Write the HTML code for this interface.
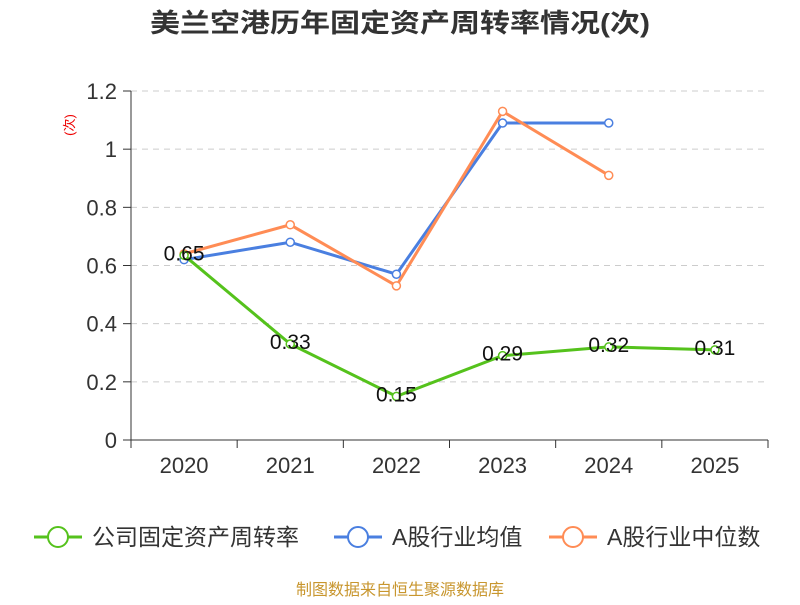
<!DOCTYPE html>
<html><head><meta charset="utf-8"><style>
body{margin:0;background:#fff;font-family:"Liberation Sans","Noto Sans CJK SC",sans-serif}
svg text{font-family:"Liberation Sans","Noto Sans CJK SC",sans-serif}
</style></head><body>
<svg id="c" width="800" height="600">
<text x="400" y="32" text-anchor="middle" font-size="26" font-weight="bold" fill="#333" textLength="500" lengthAdjust="spacingAndGlyphs">美兰空港历年固定资产周转率情况(次)</text>
<text transform="translate(74,125) rotate(-90)" text-anchor="middle" font-size="13" fill="#e00">(次)</text>
<g id="grid"></g><g id="series"></g>
<text x="400" y="595" text-anchor="middle" font-size="16" fill="#c8962e">制图数据来自恒生聚源数据库</text>
</svg>
<script>
const categories=["2020","2021","2022","2023","2024","2025"];
const companyVals=[0.635,0.33,0.15,0.29,0.32,0.31];
const companyLabels=["0.65","0.33","0.15","0.29","0.32","0.31"];
const avgVals=[0.62,0.68,0.57,1.09,1.09];
const medVals=[0.64,0.74,0.53,1.13,0.91];
const yTicks=[0,0.2,0.4,0.6,0.8,1,1.2];
const yTickLabels=["0","0.2","0.4","0.6","0.8","1","1.2"];
const NS="http://www.w3.org/2000/svg";
const L=131,R=768,T=91,B=440;
const bw=(R-L)/categories.length;
const x=i=>L+bw*(i+0.5);
const y=v=>B-(v/1.2)*(B-T);
function mk(tag,attrs,parent){const e=document.createElementNS(NS,tag);for(const k in attrs)e.setAttribute(k,attrs[k]);parent.appendChild(e);return e;}
const g=document.getElementById('grid'),s=document.getElementById('series');
yTicks.forEach((v,i)=>{
 if(v>0){const l=mk('line',{x1:L,x2:R,y1:y(v),y2:y(v),stroke:'#ccc','stroke-dasharray':'6,5'},g);
 
 }
 mk('line',{x1:L-8,x2:L,y1:y(v),y2:y(v),stroke:'#333'},g);
 const t=mk('text',{x:L-14,y:y(v)+8,'text-anchor':'end','font-size':22,fill:'#333'},g);t.textContent=yTickLabels[i];
 
 
});
mk('line',{x1:L,x2:L,y1:T,y2:B,stroke:'#333'},g);
mk('line',{x1:L,x2:R,y1:B,y2:B,stroke:'#333'},g);
for(let i=0;i<=categories.length;i++)mk('line',{x1:L+bw*i,x2:L+bw*i,y1:B,y2:B+8,stroke:'#333'},g);
categories.forEach((c,i)=>{const t=mk('text',{x:x(i),y:473,'text-anchor':'middle','font-size':22,fill:'#333'},g);t.textContent=c;
 
 });
function line(vals,color,name){
 const p=mk('polyline',{points:vals.map((v,i)=>x(i)+','+y(v)).join(' '),fill:'none',stroke:color,'stroke-width':3},s);
 
 
 vals.forEach((v,i)=>{const c=mk('circle',{cx:x(i),cy:y(v),r:4,fill:'#fff',stroke:color,'stroke-width':1.5},s);
 
 });
}
line(avgVals,'#4a7fe0','industry-average');
line(medVals,'#ff8c55','industry-median');
line(companyVals,'#55c21c','company');
companyVals.forEach((v,i)=>{const t=mk('text',{x:x(i),y:y(v)+5,'text-anchor':'middle','font-size':21,fill:'#111'},s);t.textContent=companyLabels[i];
 
 });
const legend=[["公司固定资产周转率",'#55c21c',34],["A股行业均值",'#4a7fe0',334],["A股行业中位数",'#ff8c55',549]];
legend.forEach(([n,c,lx])=>{
 const gg=mk('g',{},document.getElementById('c'));
 
 
 mk('line',{x1:lx,x2:lx+48,y1:537,y2:537,stroke:c,'stroke-width':3},gg);
 mk('circle',{cx:lx+24,cy:537,r:10,fill:'#fff',stroke:c,'stroke-width':2},gg);
 const t=mk('text',{x:lx+58,y:545,'font-size':23,fill:'#333'},gg);t.textContent=n;
});
</script>
</body></html>
